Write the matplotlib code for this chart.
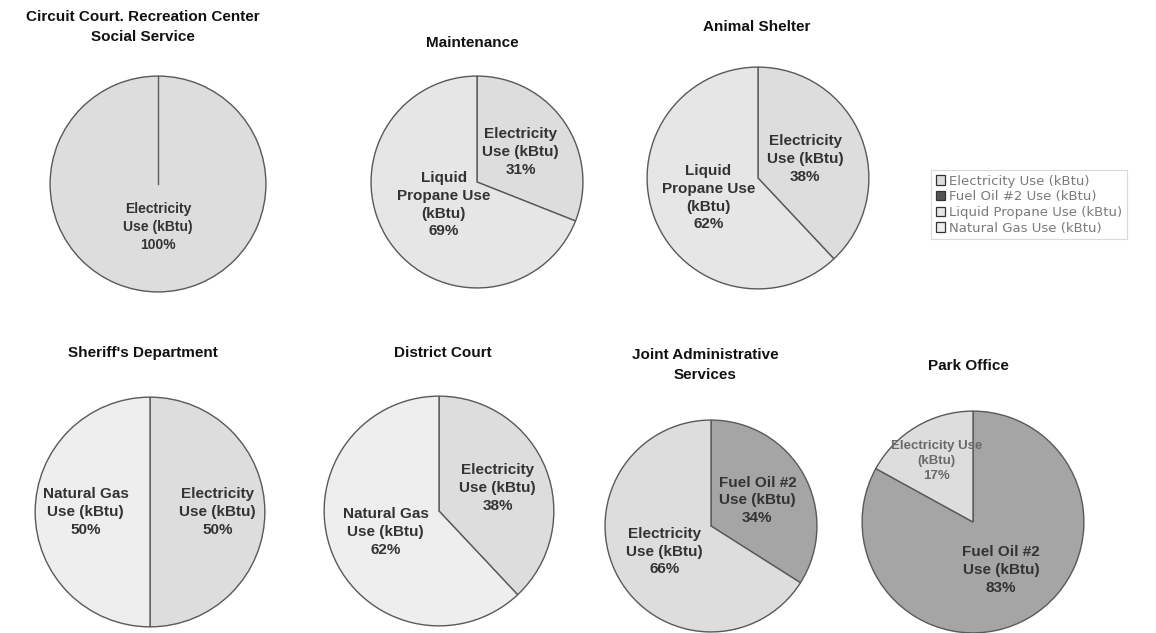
import math
import matplotlib
matplotlib.use("Agg")
import matplotlib.pyplot as plt
from matplotlib.patches import Patch

plt.rcParams['font.family'] = ['Liberation Sans', 'DejaVu Sans']

# --- data ---
titles = ["Circuit Court. Recreation Center\nSocial Service", "Maintenance",
          "Animal Shelter", "Sheriff's Department", "District Court",
          "Joint Administrative\nServices", "Park Office"]
sources = ["Electricity Use (kBtu)", "Fuel Oil #2 Use (kBtu)",
           "Liquid Propane Use (kBtu)", "Natural Gas Use (kBtu)"]
pie_sources = [
    ["Electricity Use (kBtu)"],
    ["Electricity Use (kBtu)", "Liquid Propane Use (kBtu)"],
    ["Electricity Use (kBtu)", "Liquid Propane Use (kBtu)"],
    ["Electricity Use (kBtu)", "Natural Gas Use (kBtu)"],
    ["Electricity Use (kBtu)", "Natural Gas Use (kBtu)"],
    ["Fuel Oil #2 Use (kBtu)", "Electricity Use (kBtu)"],
    ["Fuel Oil #2 Use (kBtu)", "Electricity Use (kBtu)"],
]
pie_shares = [[100], [31, 69], [38, 62], [50, 50], [38, 62], [34, 66], [83, 17]]

# how the labels wrap inside the slices
wrapped = {
    "Electricity Use (kBtu)": "Electricity\nUse (kBtu)",
    "Fuel Oil #2 Use (kBtu)": "Fuel Oil #2\nUse (kBtu)",
    "Liquid Propane Use (kBtu)": "Liquid\nPropane Use\n(kBtu)",
    "Natural Gas Use (kBtu)": "Natural Gas\nUse (kBtu)",
}
narrow_wrap = {"Electricity Use (kBtu)": "Electricity Use\n(kBtu)"}

colors = {
    "Electricity Use (kBtu)": "#dddddd",
    "Fuel Oil #2 Use (kBtu)": "#a5a5a5",
    "Liquid Propane Use (kBtu)": "#e6e6e6",
    "Natural Gas Use (kBtu)": "#eeeeee",
}

# layout in pixels: pie centre x, y, radius, title x, title y, label size
W, H = 1156, 633
layout = [
    (158, 184, 109, 143, 27, 10),
    (477, 182, 107, 472, 43, 11),
    (758, 178, 112, 757, 27, 11),
    (150, 512, 116, 143, 353, 11),
    (439, 511, 116, 443, 353, 11),
    (711, 526, 107, 705, 365, 11),
    (973, 522, 112, 968, 366, 11),
]
# label distance from the centre, per slice (fraction of radius)
label_dist = [[0.40], [0.50, 0.38], [0.46, 0.48], [0.59, 0.56], [0.55, 0.50],
              [0.50, 0.50], [0.50, 0.64]]

fig = plt.figure(figsize=(W / 100, H / 100), dpi=100)
fig.patch.set_facecolor('white')

for i, (title, srcs, shares) in enumerate(zip(titles, pie_sources, pie_shares)):
    cx, cy, r, tx, ty, fs = layout[i]
    ax = fig.add_axes([(cx - r) / W, 1 - (cy + r) / H, 2 * r / W, 2 * r / H])
    wedges, _ = ax.pie(shares, startangle=90, counterclock=False,
                       colors=[colors[s] for s in srcs],
                       wedgeprops=dict(edgecolor='#595959', linewidth=1.0))
    for w, s, v, d in zip(wedges, srcs, shares, label_dist[i]):
        txt = wrapped[s]
        size, col = fs, '#333333'
        if v < 25 and s in narrow_wrap:
            txt = narrow_wrap[s]
            size, col = fs - 1.5, '#6a6a6a'
        mid = math.radians((w.theta1 + w.theta2) / 2)
        ax.text(w.center[0] + d * w.r * math.cos(mid), w.center[1] + d * w.r * math.sin(mid),
                f"{txt}\n{v}%", ha='center', va='center', fontsize=size,
                fontweight='bold', color=col, linespacing=1.35, clip_on=False)
        # a full circle keeps its radial edge in the original
        if w.theta2 - w.theta1 >= 359.9:
            a = math.radians(w.theta1)
            ax.plot([w.center[0], w.center[0] + w.r * math.cos(a)],
                    [w.center[1], w.center[1] + w.r * math.sin(a)],
                    color='#595959', lw=1.0)
    ax.set_xlim(-1.01, 1.01)
    ax.set_ylim(-1.01, 1.01)
    ax.set_aspect('equal')
    ax.axis('off')
    fig.text(tx / W, 1 - ty / H, title, ha='center', va='center', fontsize=11,
             fontweight='bold', color='#111111', linespacing=1.55)

handles = [Patch(facecolor=colors[s], edgecolor='#333333', linewidth=0.9) for s in sources]
handles[1].set_facecolor('#555555')
leg = fig.legend(handles, sources, loc='upper left', bbox_to_anchor=(931 / W, 1 - 170 / H),
                 prop=dict(family='DejaVu Sans', size=9.5), frameon=True, fancybox=False,
                 handlelength=0.7, handleheight=0.7, handletextpad=0.3, labelspacing=0.2,
                 borderpad=0.35, borderaxespad=0)
leg.get_frame().set_edgecolor('#d0d0d0')
leg.get_frame().set_linewidth(0.8)
for t in leg.get_texts():
    t.set_color('#7a7a7a')

fig.savefig('out.png', dpi=100)
